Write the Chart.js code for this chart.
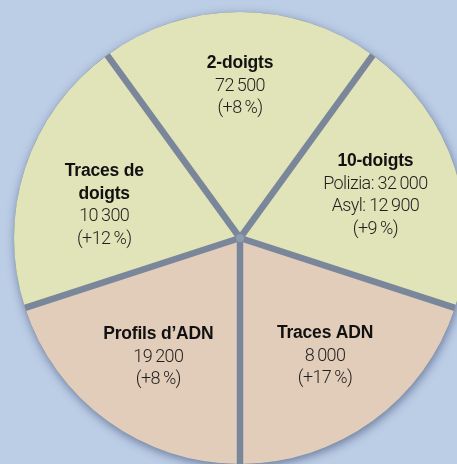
<!DOCTYPE html>
<html>
<head>
<meta charset="utf-8">
<script src="https://cdn.jsdelivr.net/npm/chart.js@4.4.1/dist/chart.umd.min.js"></script>
<style>
  html, body { margin: 0; padding: 0; overflow: hidden; background: #bccde6; }
  #wrap { position: relative; width: 457px; height: 464px; overflow: hidden; }
  #pieChart { position: absolute; left: 0; top: 0; }
</style>
</head>
<body>
<div id="wrap"><canvas id="pieChart" width="480" height="480"></canvas></div>
<script>
// slices clockwise from the top
const categories = ['2-doigts', '10-doigts', 'Traces ADN', 'Profils d\u2019ADN', 'Traces de\ndoigts'];
// the picture draws every sector with the same size
const sectorSize = [1, 1, 1, 1, 1];
const countPrefix = [[''], ['Polizia: ', 'Asyl: '], [''], [''], ['']];
const counts = [[72500], [32000, 12900], [8000], [19200], [10300]];
const changes = [8, 9, 17, 8, 12];
const groups = ['finger', 'finger', 'dna', 'dna', 'finger'];

const fillFor = { finger: '#e1e3b8', dna: '#e2cdba' };
const labelRadius = [0.672, 0.63, 0.64, 0.63, 0.62];
const labelNudge = [[0, 0], [0, 1.5], [0, 1], [2, 4], [-2.5, 10.5]];

function fmt(n) {
    // thin space as thousands separator
    return String(n).replace(/\B(?=(\d{3})+(?!\d))/g, '\u2009');
}

const pieBacking = {
    id: 'pieBacking',
    beforeDatasetsDraw(chart) {
        const arc = chart.getDatasetMeta(0).data[0];
        if (!arc) return;
        const ctx = chart.ctx;
        ctx.save();
        ctx.shadowColor = 'rgba(40, 60, 100, 0.55)';
        ctx.shadowBlur = 10;
        ctx.shadowOffsetY = 3;
        ctx.shadowOffsetX = 1;
        ctx.fillStyle = '#7c889c';
        ctx.beginPath();
        ctx.arc(arc.x, arc.y, arc.outerRadius, 0, Math.PI * 2);
        ctx.fill();
        ctx.restore();
    }
};

const sliceLabels = {
    id: 'sliceLabels',
    afterDatasetsDraw(chart) {
        const ctx = chart.ctx;
        const arcs = chart.getDatasetMeta(0).data;

        // separators between the sectors
        ctx.save();
        ctx.strokeStyle = '#7a879b';
        ctx.lineWidth = 6.5;
        arcs.forEach(a => {
            ctx.beginPath();
            ctx.moveTo(a.x, a.y);
            ctx.lineTo(a.x + Math.cos(a.startAngle) * a.outerRadius, a.y + Math.sin(a.startAngle) * a.outerRadius);
            ctx.stroke();
        });
        ctx.fillStyle = '#8e9bb0';
        ctx.beginPath();
        ctx.arc(arcs[0].x, arcs[0].y, 4, 0, Math.PI * 2);
        ctx.fill();
        ctx.restore();

        ctx.save();
        ctx.textAlign = 'center';
        ctx.textBaseline = 'middle';
        const lh = 22.7;
        arcs.forEach((a, i) => {
            const mid = (a.startAngle + a.endAngle) / 2;
            const r = a.outerRadius * labelRadius[i];
            const cx = a.x + Math.cos(mid) * r + labelNudge[i][0];
            const cy = a.y + Math.sin(mid) * r + labelNudge[i][1];

            const lines = [];
            categories[i].split('\n').forEach(t => lines.push({ t, bold: true }));
            counts[i].forEach((c, k) => lines.push({ t: countPrefix[i][k] + fmt(c), bold: false }));
            lines.push({ t: '(+' + changes[i] + '\u2009%)', bold: false });

            let y = cy - (lines.length - 1) * lh / 2;
            lines.forEach(l => {
                if (l.bold) {
                    ctx.font = 'bold 17.5px "Liberation Sans", Arial, sans-serif';
                    ctx.fillStyle = '#111111';
                    ctx.letterSpacing = '-0.2px';
                } else {
                    ctx.font = '300 18px Roboto, "Liberation Sans", sans-serif';
                    ctx.fillStyle = '#1f1f1f';
                    ctx.letterSpacing = '-0.6px';
                }
                ctx.fillText(l.t, cx, y);
                y += lh;
            });
        });
        ctx.restore();
    }
};

new Chart(document.getElementById('pieChart'), {
    type: 'pie',
    data: {
        labels: categories,
        datasets: [{
            data: sectorSize,
            backgroundColor: groups.map(g => fillFor[g]),
            borderWidth: 0,
            hoverOffset: 0
        }]
    },
    options: {
        responsive: false,
        animation: false,
        rotation: -36,
        layout: { padding: { left: 14, right: 14, top: 12, bottom: 16 } },
        plugins: {
            legend: { display: false },
            tooltip: { enabled: false }
        }
    },
    plugins: [pieBacking, sliceLabels]
});
</script>
</body>
</html>
